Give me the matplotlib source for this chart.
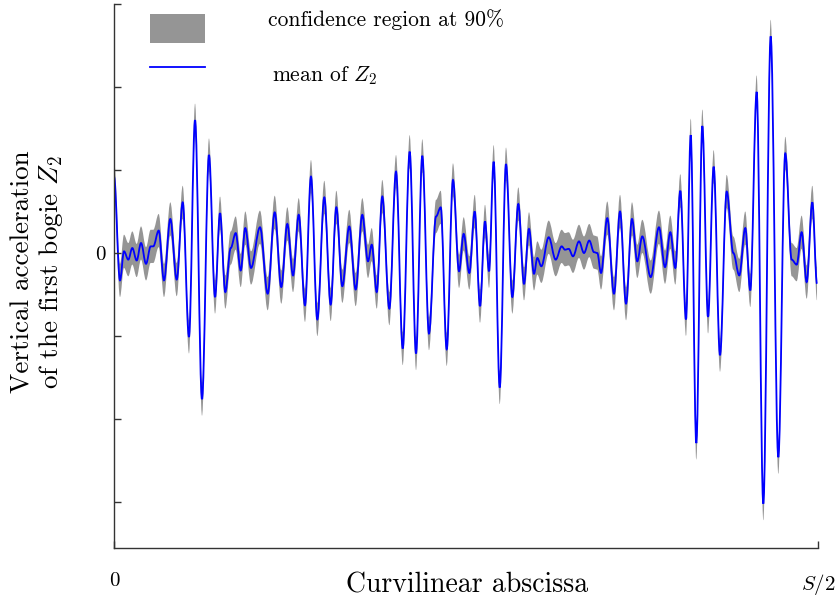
import numpy as np
import matplotlib
matplotlib.use('Agg')
import matplotlib.pyplot as plt
from matplotlib.patches import Rectangle, PathPatch
from matplotlib.lines import Line2D
from matplotlib.path import Path

plt.rcParams['font.family'] = 'serif'
plt.rcParams['font.serif'] = ['cmr10']
plt.rcParams['mathtext.fontset'] = 'cm'
plt.rcParams['axes.unicode_minus'] = False

# curvilinear abscissa as a fraction of S/2, and the mean of Z2
# (turning points of the signal)
s = [0.0, 0.0085, 0.0142, 0.0203, 0.0260, 0.0322, 0.0384, 0.0455, 0.0521, 0.0558,
     0.0635, 0.0710, 0.0800, 0.0891, 0.0976, 0.1065, 0.1151, 0.1250, 0.1349, 0.1435,
     0.1506, 0.1581, 0.1658, 0.1729, 0.1800, 0.1865, 0.1946, 0.2074, 0.2183, 0.2283,
     0.2376, 0.2462, 0.2543, 0.2624, 0.2713, 0.2798, 0.2888, 0.2987, 0.3078, 0.3158,
     0.3243, 0.3342, 0.3433, 0.3527, 0.3608, 0.3661, 0.3732, 0.3811, 0.3911, 0.4006,
     0.4101, 0.4200, 0.4290, 0.4379, 0.4474, 0.4574, 0.4641, 0.4726, 0.4815, 0.4901,
     0.4967, 0.5047, 0.5124, 0.5199, 0.5270, 0.5327, 0.5393, 0.5479, 0.5568, 0.5658,
     0.5743, 0.5824, 0.5895, 0.5966, 0.6013, 0.6070, 0.6175, 0.6274, 0.6359, 0.6406,
     0.6459, 0.6520, 0.6605, 0.6676, 0.6751, 0.6818, 0.6865, 0.6918, 0.7007, 0.7102,
     0.7188, 0.7273, 0.7358, 0.7433, 0.7504, 0.7624, 0.7741, 0.7827, 0.7902, 0.7973,
     0.8044, 0.8125, 0.8192, 0.8271, 0.8357, 0.8438, 0.8518, 0.8608, 0.8703, 0.8797,
     0.8882, 0.8967, 0.9038, 0.9129, 0.9223, 0.9328, 0.9436, 0.9535, 0.9626, 0.9697,
     0.9768, 0.9839, 0.9919, 0.9986]
z2_mean = [0.92, -0.33, 0.02, -0.08, 0.06, -0.09, 0.12, -0.13, 0.08, 0.08,
           0.27, -0.33, 0.41, -0.32, 0.61, -1.01, 1.60, -1.76, 1.18, -0.53,
           0.48, -0.47, 0.06, 0.24, -0.21, 0.30, -0.18, 0.31, -0.49, 0.49,
           -0.41, 0.35, -0.27, 0.46, -0.63, 0.92, -0.80, 0.67, -0.62, 0.55,
           -0.40, 0.32, -0.44, 0.46, -0.10, 0.10, -0.47, 0.68, -0.67, 0.98,
           -1.15, 1.22, -1.21, 1.17, -0.97, 0.44, 0.55, -1.16, 0.88, -0.22,
           0.23, -0.24, 0.50, -0.64, 0.38, -0.22, 1.10, -1.62, 1.07, -0.53,
           0.59, -0.37, 0.29, -0.25, -0.06, -0.16, 0.19, -0.08, 0.08, 0.04,
           0.05, -0.04, 0.14, 0.0, 0.15, 0.01, 0.0, -0.24, 0.42, -0.49,
           0.50, -0.61, 0.41, -0.10, 0.20, -0.29, 0.31, -0.17, 0.25, -0.18,
           0.75, -0.80, 1.42, -2.29, 1.53, -0.77, 1.04, -1.23, 0.74, 0.0,
           -0.27, 0.30, -0.45, 1.94, -3.02, 2.61, -2.46, 1.20, -0.08, -0.14,
           0.25, -0.35, 0.61, -0.37]
half_width = 0.2  # half height of the 90% band

s = np.array(s)
z2_mean = np.array(z2_mean)


def smooth_path(xs, ys):
    # cubic bezier through the turning points, flat tangent at each one
    verts = [(xs[0], ys[0])]
    codes = [Path.MOVETO]
    for i in range(len(xs) - 1):
        dx = xs[i + 1] - xs[i]
        verts += [(xs[i] + 0.36 * dx, ys[i]), (xs[i + 1] - 0.36 * dx, ys[i + 1]), (xs[i + 1], ys[i + 1])]
        codes += [Path.CURVE4] * 3
    return verts, codes


fig = plt.figure(figsize=(8.35, 6.06), dpi=100)
ax = fig.add_axes([114 / 835, 1 - 548 / 606, 704 / 835, 544 / 606])

up_v, up_c = smooth_path(s, z2_mean + half_width)
lo_v, lo_c = smooth_path(s[::-1], (z2_mean - half_width)[::-1])
lo_c[0] = Path.LINETO
band = Path(up_v + lo_v + [up_v[0]], up_c + lo_c + [Path.CLOSEPOLY])
ax.add_patch(PathPatch(band, facecolor='#959595', edgecolor='none', lw=0))

mv, mc = smooth_path(s, z2_mean)
ax.add_patch(PathPatch(Path(mv, mc), facecolor='none', edgecolor='#0000ff', lw=1.3))

ax.set_xlim(0, 1)
ax.set_ylim(-3.554, 3.0)
for side in ['top', 'right']:
    ax.spines[side].set_visible(False)
for side in ['left', 'bottom']:
    ax.spines[side].set_color('#333333')
    ax.spines[side].set_linewidth(1.0)

ax.set_yticks([-3, -2, -1, 0, 1, 2, 3])
ax.set_yticklabels(['', '', '', '0', '', '', ''])
ax.set_xticks([0, 1])
ax.set_xticklabels(['0', '$S/2$'])
ax.tick_params(axis='y', direction='in', length=5, width=1.0, color='#333333', labelsize=15, pad=6)
ax.tick_params(axis='x', direction='in', length=5, width=1.0, color='#333333', labelsize=15, pad=17)

# legend drawn by hand, as in the original export
ax.add_patch(Rectangle((36 / 704, (548 - 43) / 544), 55 / 704, 29 / 544,
                       transform=ax.transAxes, facecolor='#959595', edgecolor='none', clip_on=False))
ax.add_line(Line2D([36 / 704, 91 / 704], [(548 - 66.5) / 544] * 2, transform=ax.transAxes,
                   color='#0000ff', lw=1.3, clip_on=False))
ax.text(154 / 704, (548 - 20) / 544, 'confidence region at 90%', transform=ax.transAxes,
        fontsize=15.5, ha='left', va='center')
ax.text(158 / 704, (548 - 76) / 544, 'mean of $Z_2$', transform=ax.transAxes,
        fontsize=15.5, ha='left', va='center')

fig.text(467 / 835, 1 - 585 / 606, 'Curvilinear abscissa', fontsize=20, ha='center', va='center')
fig.text(38 / 835, 1 - 272 / 606, 'Vertical acceleration\nof the first bogie $Z_2$', fontsize=19.5,
         ha='center', va='center', rotation=90, linespacing=1.1)

fig.savefig('out.png', dpi=100)
